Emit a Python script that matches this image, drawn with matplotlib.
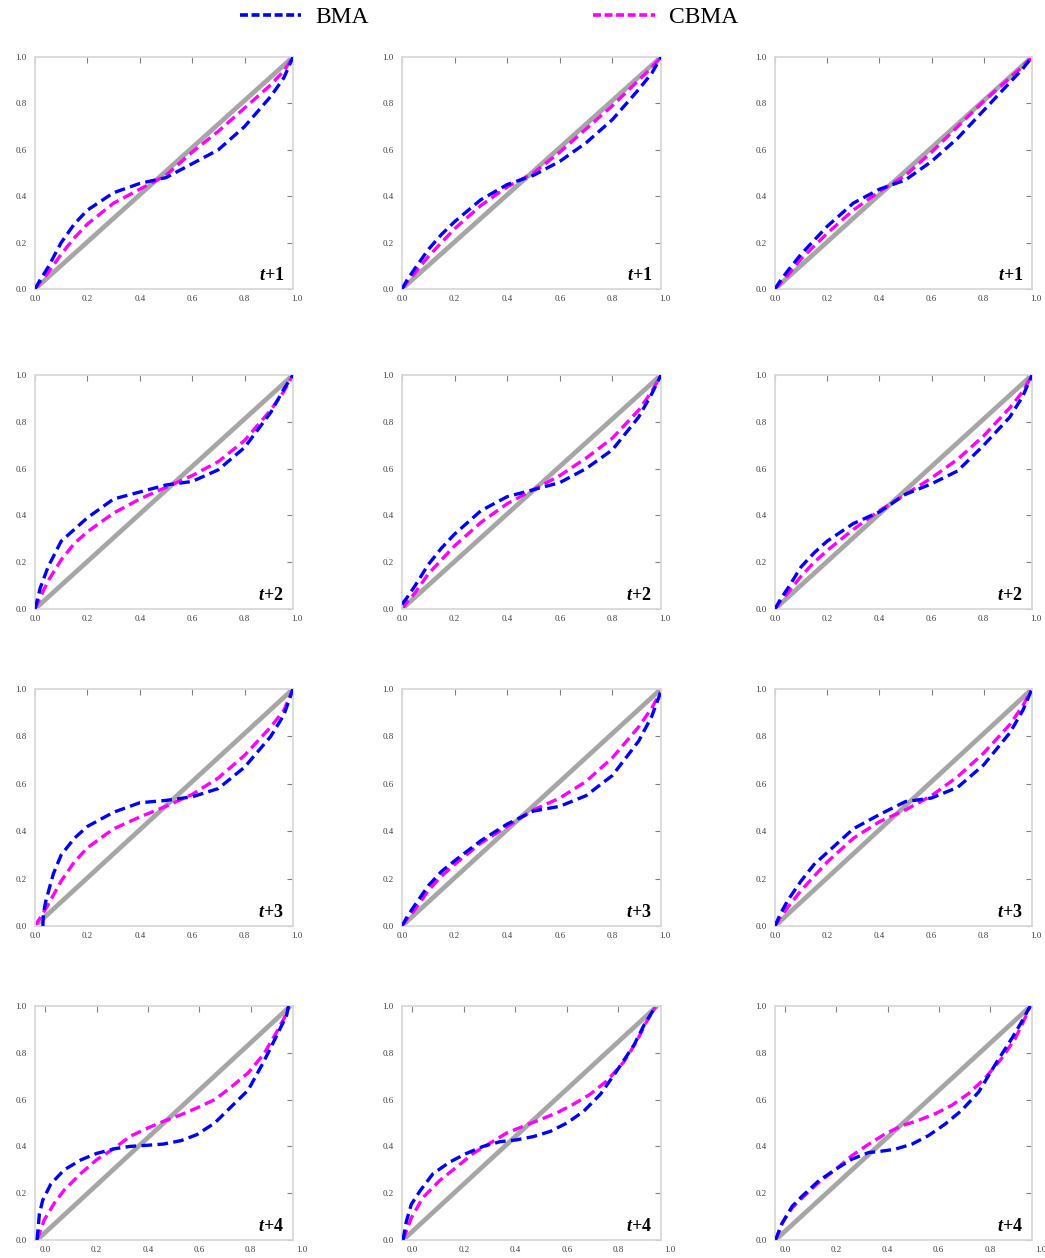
import matplotlib.pyplot as plt
from matplotlib.lines import Line2D
from matplotlib.transforms import offset_copy

plt.rcParams['font.family'] = ['Liberation Serif', 'DejaVu Serif']
plt.rcParams['mathtext.fontset'] = 'custom'
plt.rcParams['mathtext.it'] = 'Liberation Serif:italic:bold'
plt.rcParams['mathtext.rm'] = 'Liberation Serif:bold'

# common x grid used for rows t+1 .. t+3
x_grid = [0, 0.02, 0.05, 0.1, 0.15, 0.2, 0.3, 0.4, 0.5, 0.6, 0.7, 0.8, 0.9, 0.95, 0.985]

# t+1
bma_11 = [0, 0.04, 0.094, 0.20, 0.28, 0.34, 0.415, 0.455, 0.48, 0.54, 0.60, 0.70, 0.83, 0.91, 1.0]
cbma_11 = [0, 0.03, 0.07, 0.15, 0.22, 0.28, 0.37, 0.43, 0.49, 0.59, 0.68, 0.78, 0.88, 0.94, 1.0]
bma_12 = [0, 0.04, 0.09, 0.17, 0.235, 0.29, 0.385, 0.45, 0.49, 0.55, 0.63, 0.73, 0.86, 0.93, 1.0]
cbma_12 = [0, 0.03, 0.07, 0.14, 0.20, 0.26, 0.36, 0.44, 0.50, 0.59, 0.69, 0.79, 0.90, 0.955, 1.0]
bma_13 = [0, 0.035, 0.08, 0.15, 0.21, 0.27, 0.37, 0.43, 0.47, 0.55, 0.65, 0.77, 0.89, 0.95, 1.0]
cbma_13 = [0, 0.025, 0.06, 0.13, 0.185, 0.24, 0.34, 0.42, 0.49, 0.59, 0.70, 0.81, 0.91, 0.96, 1.0]

# t+2
bma_21 = [0, 0.09, 0.18, 0.29, 0.34, 0.39, 0.47, 0.50, 0.53, 0.545, 0.595, 0.69, 0.84, 0.94, 1.0]
cbma_21 = [0, 0.05, 0.12, 0.21, 0.28, 0.33, 0.41, 0.47, 0.52, 0.57, 0.63, 0.72, 0.85, 0.93, 1.0]
bma_22 = [0.02, 0.05, 0.10, 0.19, 0.26, 0.32, 0.42, 0.48, 0.51, 0.54, 0.60, 0.68, 0.82, 0.92, 1.0]
cbma_22 = [0, 0.03, 0.07, 0.15, 0.21, 0.27, 0.37, 0.45, 0.51, 0.57, 0.645, 0.73, 0.85, 0.93, 1.0]
bma_23 = [0, 0.04, 0.09, 0.18, 0.24, 0.29, 0.365, 0.415, 0.49, 0.535, 0.59, 0.70, 0.82, 0.91, 1.0]
cbma_23 = [0, 0.03, 0.07, 0.14, 0.20, 0.25, 0.34, 0.42, 0.49, 0.56, 0.64, 0.74, 0.86, 0.93, 1.0]

# t+3
x_bma_31 = [0.03, 0.032, 0.04, 0.05, 0.07, 0.1, 0.15, 0.2, 0.3, 0.4, 0.5, 0.6, 0.7, 0.8, 0.9, 0.95, 0.985]
bma_31 = [0, 0.05, 0.10, 0.14, 0.22, 0.30, 0.37, 0.42, 0.48, 0.52, 0.53, 0.545, 0.58, 0.67, 0.80, 0.89, 1.0]
cbma_31 = [0, 0.035, 0.09, 0.19, 0.27, 0.33, 0.41, 0.46, 0.505, 0.555, 0.625, 0.72, 0.84, 0.91, 1.0]
bma_32 = [0, 0.04, 0.09, 0.17, 0.23, 0.275, 0.36, 0.43, 0.485, 0.505, 0.55, 0.635, 0.78, 0.885, 0.99]
cbma_32 = [0, 0.03, 0.07, 0.15, 0.21, 0.26, 0.35, 0.42, 0.49, 0.54, 0.61, 0.71, 0.84, 0.92, 0.99]
bma_33 = [0, 0.05, 0.11, 0.19, 0.26, 0.31, 0.41, 0.47, 0.525, 0.54, 0.585, 0.68, 0.815, 0.91, 1.0]
cbma_33 = [0, 0.035, 0.08, 0.15, 0.21, 0.27, 0.37, 0.44, 0.49, 0.55, 0.63, 0.73, 0.85, 0.93, 1.0]

# t+4 (x axis is shifted in this row)
x_bma_41 = [-0.032, -0.023, -0.01, 0.022, 0.074, 0.14, 0.20, 0.27, 0.33, 0.40, 0.46, 0.53, 0.59, 0.66, 0.72, 0.79, 0.85, 0.90, 0.94, 0.948]
bma_41 = [0, 0.11, 0.17, 0.24, 0.30, 0.343, 0.37, 0.39, 0.40, 0.405, 0.41, 0.425, 0.45, 0.50, 0.565, 0.64, 0.76, 0.87, 0.96, 1.0]
x_cbma_41 = [-0.032, -0.004, 0.035, 0.074, 0.14, 0.20, 0.27, 0.33, 0.40, 0.46, 0.53, 0.59, 0.66, 0.72, 0.79, 0.85, 0.90, 0.935, 0.948]
cbma_41 = [0, 0.086, 0.157, 0.214, 0.286, 0.343, 0.393, 0.443, 0.479, 0.507, 0.536, 0.564, 0.60, 0.65, 0.714, 0.793, 0.886, 0.957, 1.0]

x_bma_42 = [-0.036, -0.023, -0.004, 0.03, 0.08, 0.145, 0.21, 0.275, 0.34, 0.405, 0.47, 0.535, 0.60, 0.665, 0.73, 0.79, 0.86, 0.90, 0.943]
bma_42 = [0, 0.08, 0.152, 0.21, 0.283, 0.333, 0.37, 0.40, 0.42, 0.428, 0.442, 0.464, 0.50, 0.55, 0.623, 0.717, 0.833, 0.92, 0.996]
x_cbma_42 = [-0.036, -0.004, 0.04, 0.106, 0.17, 0.236, 0.30, 0.366, 0.43, 0.495, 0.56, 0.625, 0.69, 0.755, 0.82, 0.87, 0.91, 0.943]
cbma_42 = [0, 0.094, 0.18, 0.254, 0.31, 0.37, 0.413, 0.457, 0.486, 0.514, 0.543, 0.58, 0.623, 0.68, 0.76, 0.848, 0.935, 0.996]

x_bma_43 = [-0.038, -0.012, 0.027, 0.066, 0.13, 0.197, 0.26, 0.327, 0.366, 0.43, 0.496, 0.56, 0.626, 0.69, 0.757, 0.82, 0.887, 0.926, 0.958]
bma_43 = [0, 0.072, 0.144, 0.187, 0.252, 0.302, 0.345, 0.374, 0.378, 0.388, 0.41, 0.446, 0.496, 0.554, 0.633, 0.748, 0.863, 0.935, 1.0]
x_cbma_43 = [-0.038, -0.012, 0.027, 0.066, 0.13, 0.197, 0.26, 0.327, 0.39, 0.457, 0.52, 0.587, 0.652, 0.717, 0.78, 0.847, 0.90, 0.932, 0.958]
cbma_43 = [0, 0.072, 0.137, 0.18, 0.245, 0.302, 0.36, 0.41, 0.453, 0.489, 0.511, 0.54, 0.576, 0.626, 0.69, 0.777, 0.863, 0.935, 1.0]

# grey reference diagonals
diag_x = [0, 0.985]
diag_x_41 = [-0.032, 0.955]
diag_x_42 = [-0.036, 0.95]
diag_x_43 = [-0.038, 0.96]
diag_y = [0, 1]

row_labels = ['$t$+1', '$t$+2', '$t$+3', '$t$+4']
tick_vals = [0, 0.2, 0.4, 0.6, 0.8]

panels = [
    [(x_grid, bma_11, x_grid, cbma_11, diag_x), (x_grid, bma_12, x_grid, cbma_12, diag_x), (x_grid, bma_13, x_grid, cbma_13, diag_x)],
    [(x_grid, bma_21, x_grid, cbma_21, diag_x), (x_grid, bma_22, x_grid, cbma_22, diag_x), (x_grid, bma_23, x_grid, cbma_23, diag_x)],
    [(x_bma_31, bma_31, x_grid, cbma_31, diag_x), (x_grid, bma_32, x_grid, cbma_32, diag_x), (x_grid, bma_33, x_grid, cbma_33, diag_x)],
    [(x_bma_41, bma_41, x_cbma_41, cbma_41, diag_x_41), (x_bma_42, bma_42, x_cbma_42, cbma_42, diag_x_42), (x_bma_43, bma_43, x_cbma_43, cbma_43, diag_x_43)],
]

W, H = 1045, 1258
fig = plt.figure(figsize=(W / 100, H / 100), dpi=100)

# pixel boxes of the panels
col_px = [(35, 293), (402, 661), (775, 1032)]
row_px = [(57, 289), (375, 609), (689, 926), (1006, 1240)]
frame_col = '#D9D9D9'
txt_col = '#404040'

for r, (top, bot) in enumerate(row_px):
    for c, (left, right) in enumerate(col_px):
        ax = fig.add_axes([left / W, 1 - bot / H, (right - left) / W, (bot - top) / H])
        xb, yb, xc, yc, dx = panels[r][c]
        ax.plot(dx, diag_y, color='#A6A6A6', lw=3.4, solid_capstyle='butt', zorder=1)
        ax.plot(xc, yc, color='#FF00FF', lw=2.4, dashes=(3.2, 1.6), zorder=2)
        ax.plot(xb, yb, color='#0000FF', lw=2.4, dashes=(3.2, 1.6), zorder=3)

        if r < 3:
            ax.set_xlim(0, 0.985)
        else:
            ax.set_xlim(-0.04, 0.965)
        ax.set_ylim(0, 1)
        ax.set_xticks(tick_vals)
        ax.set_yticks(tick_vals + [1.0])
        ax.set_xticklabels(['%.1f' % v for v in tick_vals])
        ax.set_yticklabels(['%.1f' % v for v in tick_vals + [1.0]])
        ax.tick_params(axis='x', bottom=False, top=True, direction='in', length=4,
                       color='#808080', labelsize=6.5, labelcolor=txt_col, pad=4)
        ax.tick_params(axis='y', left=False, right=True, direction='in', length=4,
                       color='#808080', labelsize=6.5, labelcolor=txt_col, pad=6)
        # the "1.0" label sits beyond the right edge of the frame
        tr = offset_copy(ax.get_xaxis_transform(), fig=fig, y=-4, units='points')
        ax.text(1.0, 0, '1.0', transform=tr, ha='center', va='top',
                fontsize=6.5, color=txt_col, clip_on=False)
        for s in ax.spines.values():
            s.set_color(frame_col)
            s.set_linewidth(1.3)
        ax.text(0.965, 0.02, row_labels[r], transform=ax.transAxes, ha='right', va='bottom',
                fontsize=13, fontweight='bold', color='black')

handles = [Line2D([], [], color='#0000FF', lw=2.6, dashes=(2.2, 1.0)),
           Line2D([], [], color='#FF00FF', lw=2.6, dashes=(2.2, 1.0))]
fig.legend(handles, ['BMA', 'CBMA'], loc='center', bbox_to_anchor=(0.468, 0.986), ncol=2,
           frameon=False, fontsize=17, handlelength=2.6, handletextpad=0.6, columnspacing=9.5)

fig.savefig('out.png', dpi=100)
